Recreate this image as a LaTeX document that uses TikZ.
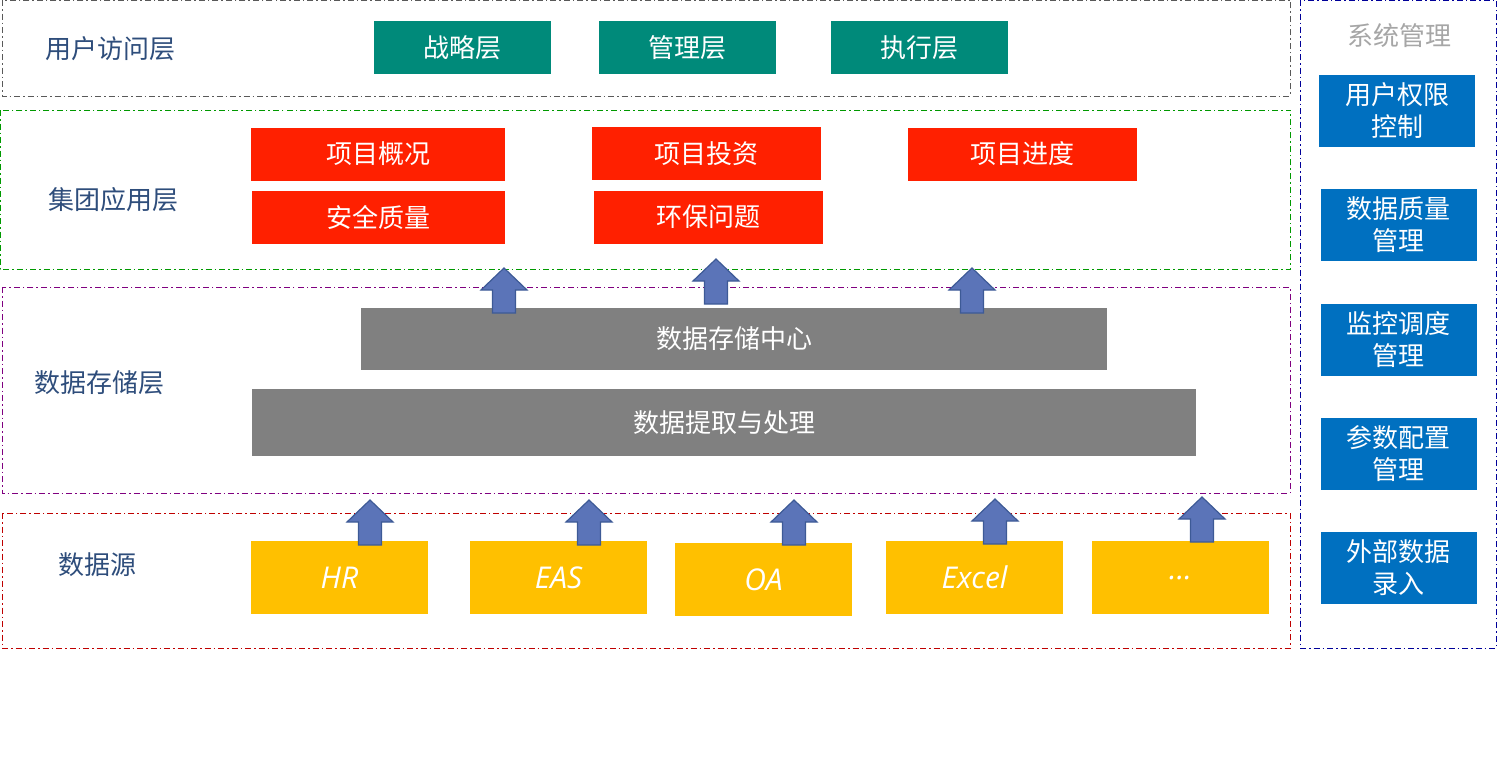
\documentclass[tikz,border=0pt]{standalone}
\usepackage{fontspec}
\setmainfont{Noto Sans CJK SC}
\newfontfamily\handfont{Open Sans}
\definecolor{layerfg}{HTML}{2E4D7B}
\definecolor{tealbg}{HTML}{008A7A}
\definecolor{redbg}{HTML}{FF2000}
\definecolor{graybg}{HTML}{808080}
\definecolor{yellowbg}{HTML}{FFC000}
\definecolor{bluebg}{HTML}{0070C0}
\definecolor{arrowbg}{HTML}{5B74B8}
\definecolor{arrowfg}{HTML}{3D5A96}

\begin{document}
\begin{tikzpicture}[x=0.5pt, y=-0.5pt,
    font=\fontsize{13}{16}\selectfont,
    frame/.style={line width=0.5pt, dash pattern=on 3pt off 1.5pt on 0.75pt off 1.5pt},
    layer/.style={text=layerfg},
    box/.style={inner sep=0pt, text=white, align=center},
    tealbox/.style={box, fill=tealbg, minimum width=88.5pt, minimum height=26.5pt},
    redbox/.style={box, fill=redbg, minimum height=26.5pt},
    graybox/.style={box, fill=graybg},
    srcbox/.style={box, fill=yellowbg, minimum width=88.5pt, minimum height=36.5pt,
      font=\handfont\itshape\fontsize{15}{18}\selectfont},
    sysbox/.style={box, fill=bluebg, minimum width=78pt, minimum height=36pt},
    uparrow/.style={fill=arrowbg, draw=arrowfg, line width=0.6pt, line join=miter}]
  \useasboundingbox (0,0) rectangle (1498,760);

  % layer frames
  \draw[frame, black!65] (2,0) rectangle (1290,96);
  \draw[frame, green!60!black] (0,110) rectangle (1290,269);
  \draw[frame, violet] (2,287) rectangle (1290,493);
  \draw[frame, red!75!black] (2,513) rectangle (1290,648);
  \draw[frame, blue!60!black] (1300,0) rectangle (1496,648);

  % layer names
  \node[layer] (user) at (110,49) {用户访问层};
  \node[layer] (app) at (113,200) {集团应用层};
  \node[layer] (store) at (99,383) {数据存储层};
  \node[layer] (src) at (97,565) {数据源};
  \node[text=black!35] (sys) at (1399,36) {系统管理};

  % user access
  \node[tealbox] (strategy) at (462.5,47.5) {战略层};
  \node[tealbox] (manage) at (687,47.5) {管理层};
  \node[tealbox] (execute) at (919,47.5) {执行层};

  % group applications
  \node[redbox, minimum width=127pt] (overview) at (378,154) {项目概况};
  \node[redbox, minimum width=114.5pt] (invest) at (706.5,153.5) {项目投资};
  \node[redbox, minimum width=114.5pt] (progress) at (1022.5,154) {项目进度};
  \node[redbox, minimum width=126.5pt] (safety) at (378.5,217.5) {安全质量};
  \node[redbox, minimum width=114.5pt] (envir) at (708.5,217) {环保问题};

  % data storage
  \node[graybox, minimum width=373pt, minimum height=31pt] (center) at (734,339) {数据存储中心};
  \node[graybox, minimum width=472pt, minimum height=33.5pt] (extract) at (724,422.5) {数据提取与处理};

  % data sources
  \node[srcbox] (hr) at (339.5,577.5) {HR};
  \node[srcbox] (eas) at (558.5,577.5) {EAS};
  \node[srcbox] (oa) at (763.5,579.5) {OA};
  \node[srcbox] (excel) at (974.5,577.5) {Excel};
  \node[srcbox] (more) at (1180.5,577.5) {...};

  % system management
  \node[sysbox] (perm) at (1397,111) {用户权限\\控制};
  \node[sysbox] (quality) at (1398.5,225) {数据质量\\管理};
  \node[sysbox] (monitor) at (1398.5,339.5) {监控调度\\管理};
  \node[sysbox] (param) at (1398.5,453.5) {参数配置\\管理};
  \node[sysbox] (extin) at (1398.5,567.5) {外部数据\\录入};

  % up arrows
  \foreach \ax/\ay in {504/268, 716/259, 972/268, 370/500, 589/500, 794/500, 995/499, 1202/497}
    \draw[uparrow] (\ax,\ay) -- ++(23,22) -- ++(-11.5,0) -- ++(0,23) -- ++(-23,0)
      -- ++(0,-23) -- ++(-11.5,0) -- cycle;
\end{tikzpicture}
\end{document}
